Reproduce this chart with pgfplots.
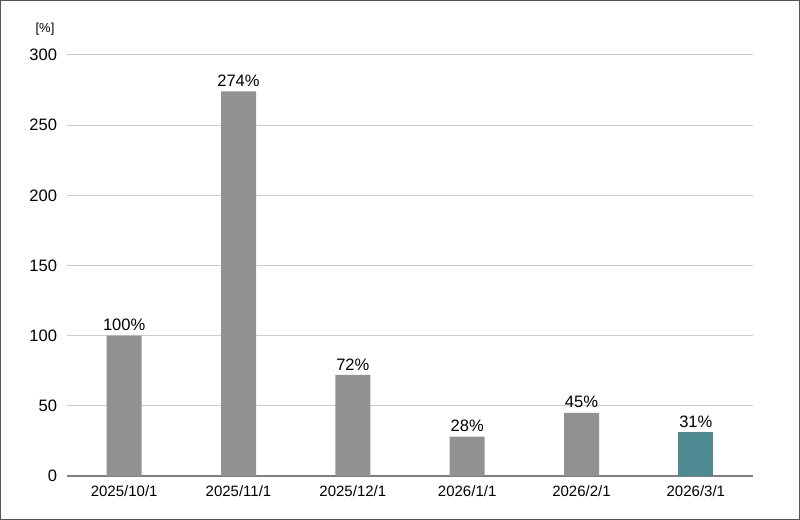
\documentclass[border=0pt]{standalone}
\usepackage{pgfplots}
\pgfplotsset{compat=1.18}
\usepackage{fontspec}
\setmainfont{Liberation Sans}
\definecolor{bargray}{HTML}{919191}
\definecolor{barteal}{HTML}{4F8A92}
\definecolor{basegray}{HTML}{808080}
\definecolor{gridgray}{HTML}{CCCCCC}
\definecolor{framegray}{HTML}{555555}
\begin{document}
\begin{tikzpicture}
% frame round the whole picture: 800x520 px, 1px = 0.75pt
\draw[framegray, line width=1pt] (0.5pt,0.5pt) rectangle (599.5pt,389.5pt);
\begin{axis}[
  at={(50.25pt,33pt)}, anchor=south west,
  scale only axis, width=514.5pt, height=315.75pt,
  ybar, bar width=26.25pt, bar shift=0pt,
  xmin=-0.5, xmax=5.5, ymin=0, ymax=300,
  xtick={0,1,2,3,4,5},
  xticklabels={2025/10/1,2025/11/1,2025/12/1,2026/1/1,2026/2/1,2026/3/1},
  ytick={0,50,100,150,200,250,300},
  major tick length=0pt,
  axis lines*=left,
  y axis line style={draw=none},
  x axis line style={basegray, line width=1.5pt},
  ymajorgrids, grid style={gridgray, line width=0.75pt},
  xticklabel style={font=\fontsize{11.25}{13}\selectfont},
  yticklabel style={font=\fontsize{12.4}{14}\selectfont},
  xticklabel shift=4pt, yticklabel shift=4pt,
  /pgf/number format/assume math mode=true,
  nodes near coords={\pgfmathprintnumber{\pgfplotspointmeta}\%},
  every node near coord/.append style={font=\fontsize{12.4}{14}\selectfont, black},
  clip=false,
]
\addplot[fill=bargray, draw=none] coordinates {(0,100) (1,274) (2,72) (3,28) (4,45)};
\addplot[fill=barteal, draw=none] coordinates {(5,31)};
\node[font=\fontsize{9.75}{11}\selectfont] at ([xshift=-16.5pt, yshift=19.5pt]rel axis cs:0,1) {[\%]};
\end{axis}
\end{tikzpicture}
\end{document}
